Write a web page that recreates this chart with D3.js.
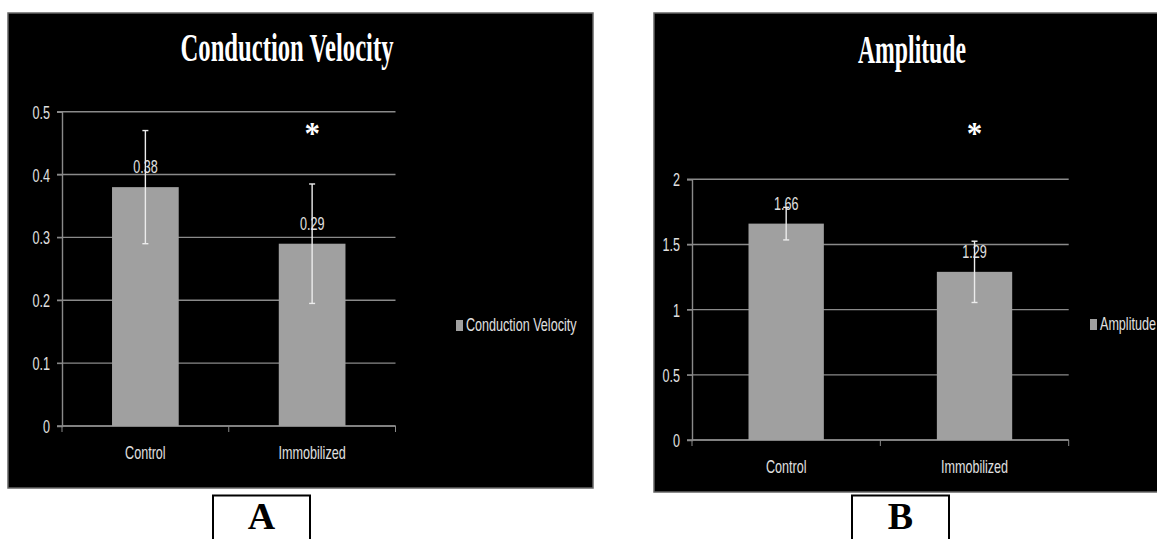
<!DOCTYPE html>
<html>
<head>
<meta charset="utf-8">
<script src="https://cdn.jsdelivr.net/npm/d3@7"></script>
<style>
  body { margin: 0; background: #fff; }
  .sans { font-family: "Liberation Sans", Arial, sans-serif; font-size: 18px; fill: #e0e0e0; }
  .serif { font-family: "Liberation Serif", "Times New Roman", serif; font-weight: bold; }
</style>
</head>
<body>
<div id="chart"></div>
<script>
// data
var categories = ["Control", "Immobilized"];

var velocity = [0.38, 0.29];
var velocityErr = [0.09, 0.095];
var velocityTicks = [0, 0.1, 0.2, 0.3, 0.4, 0.5];
var velocityLabels = ["0.38", "0.29"];

var amplitude = [1.66, 1.29];
var amplitudeErr = [0.125, 0.235];
var amplitudeTicks = [0, 0.5, 1, 1.5, 2];
var amplitudeLabels = ["1.66", "1.29"];

var starCategory = "Immobilized";

var svg = d3.select("#chart").append("svg")
  .attr("width", 1157)
  .attr("height", 539);

// squeeze text horizontally, the original picture is narrow
var SX = 0.7;
function squeezed(g, x, y, str, anchor) {
  return g.append("text")
    .attr("class", "sans")
    .attr("transform", "translate(" + x + "," + y + ") scale(" + SX + ",1)")
    .attr("text-anchor", anchor || "middle")
    .text(str);
}

function drawPanel(p) {
  var g = svg.append("g");

  g.append("rect")
    .attr("x", p.box[0]).attr("y", p.box[1])
    .attr("width", p.box[2]).attr("height", p.box[3])
    .attr("fill", "#000")
    .attr("stroke", "#666")
    .attr("stroke-width", 1.5);

  var x = d3.scaleBand()
    .domain(categories)
    .range([p.left, p.right])
    .paddingInner(0.6)
    .paddingOuter(0.3);

  var y = d3.scaleLinear()
    .domain([0, p.max])
    .range([p.bottom, p.top]);

  // gridlines
  g.selectAll(".grid")
    .data(p.ticks)
    .enter().append("line")
    .attr("x1", p.left - 5)
    .attr("x2", p.right)
    .attr("y1", function(d) { return y(d); })
    .attr("y2", function(d) { return y(d); })
    .attr("stroke", "#8a8a8a")
    .attr("stroke-width", 1.4);

  // y axis
  var yAxis = g.append("g")
    .attr("transform", "translate(" + p.left + ",0)")
    .call(d3.axisLeft(y).tickValues(p.ticks).tickSize(5).tickFormat(d3.format("")));
  yAxis.select(".domain").attr("stroke", "#8a8a8a").attr("stroke-width", 1.4);
  yAxis.selectAll("line").attr("stroke", "#8a8a8a");
  yAxis.selectAll("text")
    .attr("class", "sans")
    .attr("x", -12 / SX)
    .attr("dy", "0.36em")
    .attr("transform", "scale(" + SX + ",1)");

  // x axis: ticks on band boundaries
  var bounds = d3.range(categories.length + 1).map(function(i) { return p.left + i * x.step(); });
  g.append("line")
    .attr("x1", p.left).attr("x2", p.right)
    .attr("y1", p.bottom).attr("y2", p.bottom)
    .attr("stroke", "#8a8a8a").attr("stroke-width", 1.4);
  g.selectAll(".xtick")
    .data(bounds)
    .enter().append("line")
    .attr("x1", function(d) { return d; })
    .attr("x2", function(d) { return d; })
    .attr("y1", p.bottom)
    .attr("y2", p.bottom + 6)
    .attr("stroke", "#8a8a8a");

  categories.forEach(function(c) {
    squeezed(g, x(c) + x.bandwidth() / 2, p.bottom + 33, c);
  });

  // bars
  g.selectAll(".bar")
    .data(p.values)
    .enter().append("rect")
    .attr("x", function(d, i) { return x(categories[i]); })
    .attr("y", function(d) { return y(d); })
    .attr("width", x.bandwidth())
    .attr("height", function(d) { return p.bottom - y(d); })
    .attr("fill", "#a0a0a0");

  // value labels
  p.values.forEach(function(v, i) {
    squeezed(g, x(categories[i]) + x.bandwidth() / 2, y(v) - 14, p.labels[i]);
  });

  // error bars
  p.values.forEach(function(v, i) {
    var cx = x(categories[i]) + x.bandwidth() / 2;
    var lo = y(v - p.err[i]), hi = y(v + p.err[i]);
    g.append("line")
      .attr("x1", cx).attr("x2", cx).attr("y1", lo).attr("y2", hi)
      .attr("stroke", "#ececec").attr("stroke-width", 1.4);
    [lo, hi].forEach(function(yy) {
      g.append("line")
        .attr("x1", cx - 3).attr("x2", cx + 3).attr("y1", yy).attr("y2", yy)
        .attr("stroke", "#ececec").attr("stroke-width", 1.4);
    });
  });

  // significance star
  g.append("text")
    .attr("class", "serif")
    .attr("x", x(starCategory) + x.bandwidth() / 2)
    .attr("y", 144)
    .attr("text-anchor", "middle")
    .attr("font-size", 31)
    .attr("fill", "#fff")
    .text("*");

  // title
  g.append("text")
    .attr("class", "serif")
    .attr("x", p.titleX)
    .attr("y", p.titleY)
    .attr("text-anchor", "middle")
    .attr("font-size", 39)
    .attr("fill", "#fff")
    .attr("textLength", p.titleW)
    .attr("lengthAdjust", "spacingAndGlyphs")
    .text(p.title);

  // legend
  g.append("rect")
    .attr("x", p.legend[0]).attr("y", p.legend[1])
    .attr("width", 7).attr("height", 11)
    .attr("fill", "#a0a0a0");
  squeezed(g, p.legend[0] + 10, p.legend[1] + 11, p.title, "start");

  // letter box
  svg.append("rect")
    .attr("x", p.letterBox).attr("y", 495.5)
    .attr("width", 97).attr("height", 50)
    .attr("fill", "#fff")
    .attr("stroke", "#000")
    .attr("stroke-width", 2);
  svg.append("text")
    .attr("class", "serif")
    .attr("x", p.letterBox + 48.5)
    .attr("y", 529)
    .attr("text-anchor", "middle")
    .attr("font-size", 38)
    .attr("fill", "#000")
    .text(p.letter);
}

drawPanel({
  box: [8, 13, 585, 475],
  left: 62, right: 395.5, top: 111.7, bottom: 426,
  max: 0.5, ticks: velocityTicks,
  values: velocity, err: velocityErr, labels: velocityLabels,
  title: "Conduction Velocity", titleX: 287, titleY: 61, titleW: 213,
  legend: [456, 320],
  letterBox: 213, letter: "A"
});

drawPanel({
  box: [654, 13, 530, 479],
  left: 692, right: 1068.7, top: 179.3, bottom: 440,
  max: 2, ticks: amplitudeTicks,
  values: amplitude, err: amplitudeErr, labels: amplitudeLabels,
  title: "Amplitude", titleX: 912, titleY: 63, titleW: 108,
  legend: [1090, 319],
  letterBox: 852, letter: "B"
});
</script>
</body>
</html>
